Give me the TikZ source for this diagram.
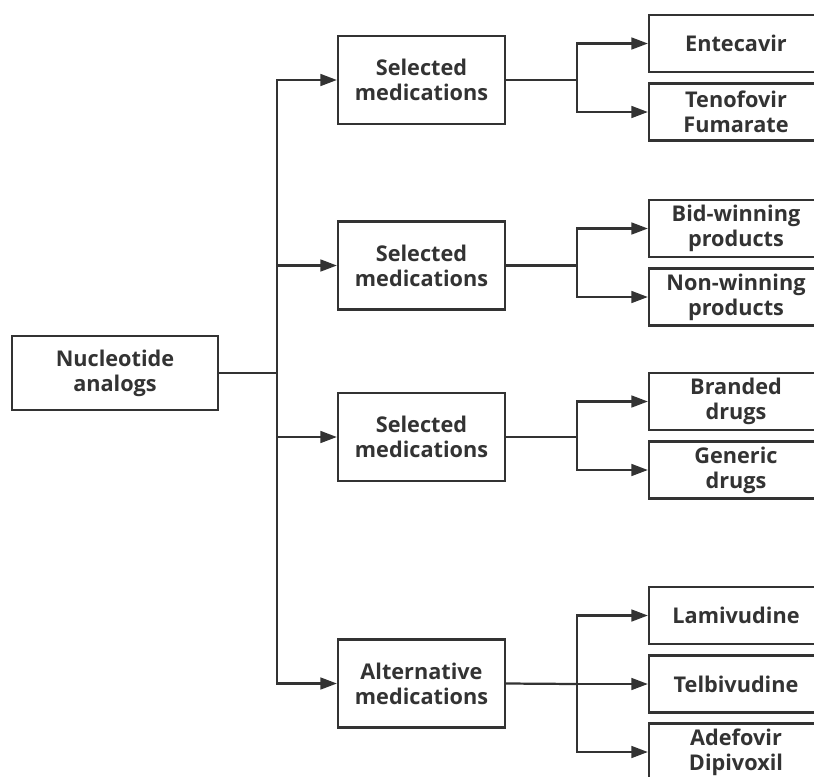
\documentclass[tikz,border=0pt]{standalone}
\usepackage{fontspec}
\setmainfont{Open Sans}
\usetikzlibrary{arrows.meta}
\definecolor{ink}{HTML}{333333}
\begin{document}
\begin{tikzpicture}[x = 0.03cm, y = -0.03cm,
	box/.style = {draw = ink, line width = 1.9pt, fill = white, align = center, inner sep = 0pt,
		text = ink, font = \fontsize{18.5}{21.5}\selectfont\bfseries},
	rootbox/.style = {box, minimum width = 6.18cm, minimum height = 2.22cm},
	midbox/.style = {box, minimum width = 5.01cm, minimum height = 2.64cm},
	leafbox/.style = {box, minimum width = 5.22cm, minimum height = 1.71cm},
	link/.style = {draw = ink, line width = 1.9pt},
	arr/.style = {link, -{Triangle[length = 14pt, width = 10pt]}}]
	\useasboundingbox (0,0) rectangle (814,776);
	\clip (0,0) rectangle (814,776);
	% root and hub
	\node [rootbox] (root) at (115,373) {Nucleotide\\analogs};
	\coordinate (hub0) at (277,373);
	% middle level
	\foreach \name/\y/\txt/\h in {sel1/80/{Selected\\medications}/80, sel2/265.5/{Selected\\medications}/265.5, sel3/437/{Selected\\medications}/437, alt/683.5/{Alternative\\medications}/684}{
	\node [midbox] (\name) at (421.5,\y) {\txt};
	\coordinate (h\name) at (577,\h);
	}
	% leaves
	\foreach \name/\y/\txt in {ent/43.5/Entecavir, ten/112/{Tenofovir\\Fumarate}, bid/228.5/{Bid-winning\\products}, non/297/{Non-winning\\products}, bra/401.5/{Branded\\drugs}, gen/470/{Generic\\drugs}, lam/615.5/Lamivudine, tel/684/Telbivudine, ade/752/{Adefovir\\Dipivoxil}}{
	\node [leafbox] (\name) at (736,\y) {\txt};
	}
	% connectors
	\draw [link] (root.east) -- (hub0);
	\foreach \m in {sel1,sel2,sel3,alt}{
	\draw [arr] (hub0) |- (\m.west);
	\draw [link] (\m.east) -- (h\m);
	}
	\foreach \m/\l in {sel1/ent,sel1/ten,sel2/bid,sel2/non,sel3/bra,sel3/gen,alt/lam,alt/tel,alt/ade}{
	\draw [arr] (h\m) |- (\l.west);
	}
\end{tikzpicture}
\end{document}
